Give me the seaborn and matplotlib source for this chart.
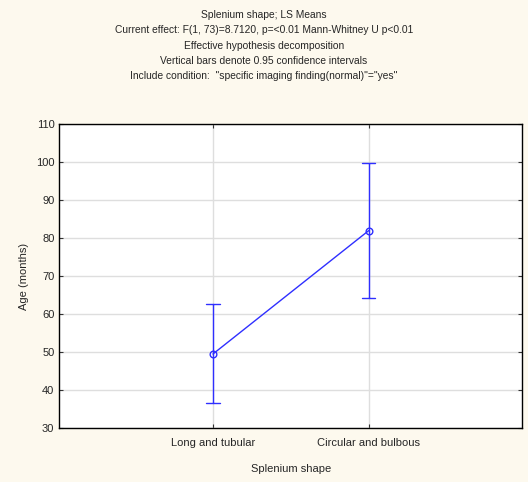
import numpy as np
import pandas as pd
import matplotlib
matplotlib.use("Agg")
import matplotlib.pyplot as plt
import seaborn as sns

# LS means and 0.95 confidence limits
CATEGORIES = ["Long and tubular", "Circular and bulbous"]
MEANS = [49.5, 82.0]
CI_LOW = [36.7, 64.3]
CI_HIGH = [62.6, 99.8]
Y_TICKS = [30, 40, 50, 60, 70, 80, 90, 100, 110]

TITLE_LINES = [
    "Splenium shape; LS Means",
    "Current effect: F(1, 73)=8.7120, p=<0.01 Mann-Whitney U p<0.01",
    "Effective hypothesis decomposition",
    "Vertical bars denote 0.95 confidence intervals",
    'Include condition:  "specific imaging finding(normal)"="yes"',
]

BG = "#fdf9ee"
BLUE = "#2f2fff"

sns.set_style("white")
plt.rcParams["font.family"] = ["Liberation Sans", "DejaVu Sans"]

# long form: median of (low, mean, high) = mean, 100% interval = CI
rows = []
for cat, lo, m, hi in zip(CATEGORIES, CI_LOW, MEANS, CI_HIGH):
    for v in (lo, m, hi):
        rows.append({"Splenium shape": cat, "Age (months)": v})
df = pd.DataFrame(rows)

fig = plt.figure(figsize=(5.28, 4.82), dpi=100, facecolor=BG)
ax = fig.add_axes([0.1123, 0.112, 0.877, 0.630])
ax.set_facecolor("white")

sns.pointplot(data=df, x="Splenium shape", y="Age (months)", order=CATEGORIES,
              estimator=np.median, errorbar=("pi", 100), color=BLUE,
              capsize=0.085, err_kws={"linewidth": 1.0},
              linewidth=1.0, markers="o", markersize=4.8,
              markerfacecolor="none", markeredgewidth=1.0, ax=ax)

ax.set_xlim(-0.987, 1.987)
ax.set_ylim(30, 110)
ax.set_yticks(Y_TICKS)
ax.grid(True, color="#dedede", linewidth=1.0)
ax.set_axisbelow(True)
for s in ax.spines.values():
    s.set_visible(True)
    s.set_color("black")
    s.set_linewidth(1.0)

ax.tick_params(axis="both", labelsize=8, length=3, width=0.8, color="#333333",
               left=True, bottom=True, right=True, top=True,
               labelright=False, labeltop=False)
ax.tick_params(axis="y", which="both", direction="out")
ax.tick_params(axis="y", right=True, direction="in")
ax.tick_params(axis="x", direction="in", pad=7.5)
ax.set_xlabel("Splenium shape", fontsize=8, labelpad=11)
ax.set_ylabel("Age (months)", fontsize=8, labelpad=5)

ys = [15, 30.3, 45.7, 61, 76.3]
for line, y in zip(TITLE_LINES, ys):
    fig.text(0.5, 1 - y / 482, line, ha="center", va="center", fontsize=7.4)

fig.savefig("out.png", dpi=100, facecolor=BG)
